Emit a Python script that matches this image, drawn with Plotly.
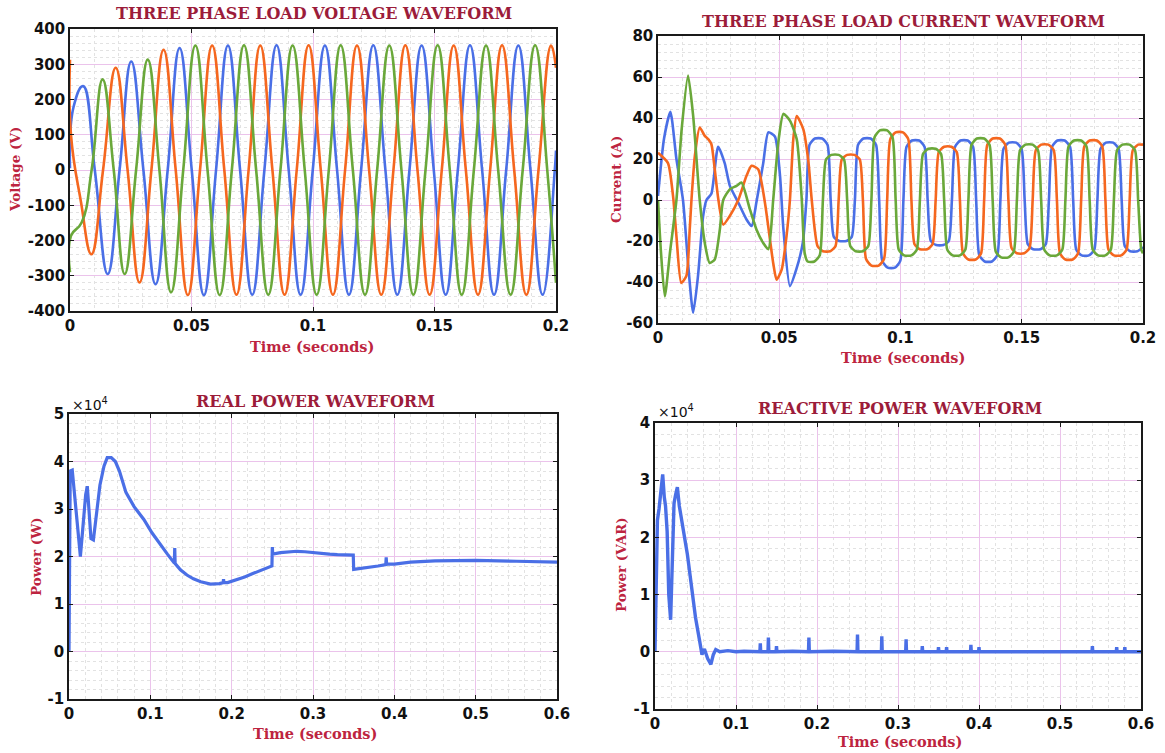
import plotly.graph_objects as go

# ---------------- DATA ----------------
# Three-phase load voltage (V) vs time (s)
v_t_blue = [0, 0.0015, 0.0054, 0.0102, 0.0155, 0.0204, 0.0252, 0.0302, 0.0352, 0.0402, 0.0451, 0.0501,
            0.0551, 0.0601, 0.0650, 0.0700, 0.0750, 0.0800, 0.0850, 0.0900, 0.0949, 0.0999, 0.1049, 0.1099,
            0.1148, 0.1198, 0.1248, 0.1298, 0.1347, 0.1397, 0.1447, 0.1497, 0.1546, 0.1596, 0.1646, 0.1696,
            0.1745, 0.1795, 0.1845, 0.1895, 0.1945, 0.1995, 0.2]
v_blue = [5, 180, 238, 0, -295, 0, 308, 0, -324, 0, 346, 0,
          -355, 0, 353, 0, -354, 0, 354, 0, -354, 0, 353, 0,
          -354, 0, 354, 0, -354, 0, 353, 0, -354, 0, 354, 0,
          -354, 0, 353, 0, -354, 0, 55]

v_t_orange = [0, 0.0004, 0.0045, 0.0088, 0.0136, 0.0188, 0.0237, 0.0286, 0.0335, 0.0385, 0.0435, 0.0485,
              0.0535, 0.0585, 0.0635, 0.0685, 0.0735, 0.0783, 0.0833, 0.0883, 0.0933, 0.0982, 0.1032, 0.1082,
              0.1132, 0.1181, 0.1231, 0.1281, 0.1331, 0.1380, 0.1430, 0.1480, 0.1530, 0.1579, 0.1629, 0.1679,
              0.1729, 0.1778, 0.1828, 0.1878, 0.1928, 0.1980, 0.2]
v_orange = [313, 100, -90, -239, 0, 290, 0, -319, 0, 341, 0, -355,
            0, 353, 0, -354, 0, 353, 0, -354, 0, 354, 0, -354,
            0, 353, 0, -354, 0, 354, 0, -354, 0, 353, 0, -354,
            0, 354, 0, -354, 0, 353, 290]

v_t_green = [0, 0.0004, 0.0048, 0.0089, 0.0134, 0.0180, 0.0225, 0.0272, 0.0320, 0.0368, 0.0416, 0.0466,
             0.0516, 0.0566, 0.0616, 0.0666, 0.0716, 0.0766, 0.0816, 0.0866, 0.0916, 0.0966, 0.1015, 0.1065,
             0.1114, 0.1164, 0.1214, 0.1264, 0.1314, 0.1364, 0.1413, 0.1463, 0.1513, 0.1563, 0.1612, 0.1662,
             0.1712, 0.1762, 0.1813, 0.1863, 0.1914, 0.1964, 0.2]
v_green = [-290, -187, -149, 0, 257, 0, -295, 0, 313, 0, -347, 0,
           353, 0, -355, 0, 354, 0, -354, 0, 353, 0, -354, 0,
           354, 0, -354, 0, 353, 0, -354, 0, 354, 0, -354, 0,
           353, 0, -354, 0, 354, 0, -320]

# Three-phase load current (A) vs time (s)
i_t_blue = [0, 0.0025, 0.0051, 0.0076, 0.0103, 0.0124, 0.0145, 0.0165, 0.0186, 0.02, 0.022, 0.0248, 0.0275,
            0.0296, 0.033, 0.0365, 0.0386, 0.0406, 0.0434, 0.0455, 0.0482, 0.0503, 0.0517, 0.0544, 0.057,
            0.0597, 0.0612,
            0.0625, 0.0647, 0.0677, 0.0699, 0.0712,
            0.0725, 0.0747, 0.0777, 0.0799, 0.0812,
            0.0825, 0.0847, 0.0877, 0.0899, 0.0912,
            0.0925, 0.0947, 0.0977, 0.0999, 0.1012,
            0.1025, 0.1047, 0.1077, 0.1099, 0.1112,
            0.1125, 0.1147, 0.1177, 0.1199, 0.1212,
            0.1225, 0.1247, 0.1277, 0.1299, 0.1312,
            0.1325, 0.1347, 0.1377, 0.1399, 0.1412,
            0.1425, 0.1447, 0.1477, 0.1499, 0.1512,
            0.1525, 0.1547, 0.1577, 0.1599, 0.1612,
            0.1625, 0.1647, 0.1677, 0.1699, 0.1712,
            0.1725, 0.1747, 0.1777, 0.1799, 0.1812,
            0.1825, 0.1847, 0.1877, 0.1899, 0.1912,
            0.1925, 0.1947, 0.1977, 0.2]
i_blue = [2, 30, 43, 20, 0, -31, -55, -37, -8, 0, 3, 26, 18,
          7, -1, -9.5, -12.7, -1, 18, 33, 31, 12, -14, -42, -34,
          -21, 0,
          27, 30, 30, 27, 0,
          -18, -20, -20, -18, 0,
          27, 30, 30, 27, 0,
          -29.7, -33, -33, -29.7, 0,
          26, 29, 29, 26, 0,
          -20, -22, -22, -20, 0,
          26, 29, 29, 26, 0,
          -27, -30, -30, -27, 0,
          25, 28, 28, 25, 0,
          -21.6, -24, -24, -21.6, 0,
          26, 29, 29, 26, 0,
          -24.3, -27, -27, -24.3, 0,
          25, 28, 28, 25, 0,
          -22.5, -25, -25, -23]

i_t_orange = [0, 0.0041, 0.0062, 0.0076, 0.0096, 0.0117, 0.0131, 0.0138, 0.0152, 0.0172, 0.0193, 0.0207,
              0.022, 0.0234, 0.0248, 0.0269, 0.0296, 0.0331, 0.0365, 0.0386, 0.0413, 0.0441, 0.0475, 0.0489,
              0.051, 0.053, 0.0544, 0.0558, 0.0572, 0.0599, 0.062, 0.0634,
              0.0658, 0.068, 0.071, 0.0732, 0.0745,
              0.0758, 0.078, 0.081, 0.0832, 0.0845,
              0.0858, 0.088, 0.091, 0.0932, 0.0945,
              0.0958, 0.098, 0.101, 0.1032, 0.1045,
              0.1058, 0.108, 0.111, 0.1132, 0.1145,
              0.1158, 0.118, 0.121, 0.1232, 0.1245,
              0.1258, 0.128, 0.131, 0.1332, 0.1345,
              0.1358, 0.138, 0.141, 0.1432, 0.1445,
              0.1458, 0.148, 0.151, 0.1532, 0.1545,
              0.1558, 0.158, 0.161, 0.1632, 0.1645,
              0.1658, 0.168, 0.171, 0.1732, 0.1745,
              0.1758, 0.178, 0.181, 0.1832, 0.1845,
              0.1858, 0.188, 0.191, 0.1932, 0.1945,
              0.1958, 0.198, 0.2]
i_orange = [23, 18, 2, -17.6, -40.5, -37, -14, 0, 21.5, 35.4, 31.3, 29.7,
            27.3, 15, 1, -12, -7.8, 0, 11.8, 16.7, 15, -1.3, -30.7, -38.9,
            -34, -17.6, 0, 29.7, 41, 34.6, 19, 0,
            -22.5, -25, -25, -22.5, 0,
            19.8, 22, 22, 19.8, 0,
            -28.8, -32, -32, -28.8, 0,
            29.7, 33, 33, 29.7, 0,
            -21.6, -24, -24, -21.6, 0,
            23.4, 26, 26, 23.4, 0,
            -26.1, -29, -29, -26.1, 0,
            27, 30, 30, 27, 0,
            -23.4, -26, -26, -23.4, 0,
            24.3, 27, 27, 24.3, 0,
            -26.1, -29, -29, -26.1, 0,
            26.1, 29, 29, 26.1, 0,
            -24.3, -27, -27, -24.3, 0,
            24.3, 27, 27]

i_t_green = [0, 0.0012, 0.0028, 0.005, 0.0076, 0.0098, 0.0124, 0.0145, 0.0172, 0.0193, 0.0213, 0.0234,
             0.0255, 0.0269, 0.0296, 0.0324, 0.0344, 0.0379, 0.0406, 0.0434, 0.0455, 0.0475, 0.0496, 0.0517,
             0.0544, 0.0572, 0.0592,
             0.0605, 0.0617, 0.0645, 0.0667, 0.068,
             0.0693, 0.0715, 0.0745, 0.0767, 0.078,
             0.0793, 0.0815, 0.0845, 0.0867, 0.088,
             0.0893, 0.0915, 0.0945, 0.0967, 0.098,
             0.0993, 0.1015, 0.1045, 0.1067, 0.108,
             0.1093, 0.1115, 0.1145, 0.1167, 0.118,
             0.1193, 0.1215, 0.1245, 0.1267, 0.128,
             0.1293, 0.1315, 0.1345, 0.1367, 0.138,
             0.1393, 0.1415, 0.1445, 0.1467, 0.148,
             0.1493, 0.1515, 0.1545, 0.1567, 0.158,
             0.1593, 0.1615, 0.1645, 0.1667, 0.168,
             0.1693, 0.1715, 0.1745, 0.1767, 0.178,
             0.1793, 0.1815, 0.1845, 0.1867, 0.188,
             0.1893, 0.1915, 0.1945, 0.1967, 0.198,
             0.1993, 0.2]
i_green = [0, -25, -47, -25, 0, 35, 60.7, 41, 0, -21, -30.7, -29,
           -14.4, 0, 5.2, 6.9, 8.5, -4.6, -14.4, -21, -24, 0, 28, 42,
           38.7, 29.7, 2,
           -26, -30, -30, -27, 0,
           19.8, 22, 22, 19.8, 0,
           -22.5, -25, -25, -22.5, 0,
           30.6, 34, 34, 30.6, 0,
           -24.3, -27, -27, -24.3, 0,
           22.5, 25, 25, 22.5, 0,
           -24.3, -27, -27, -24.3, 0,
           27, 30, 30, 27, 0,
           -25.2, -28, -28, -25.2, 0,
           24.3, 27, 27, 24.3, 0,
           -24.3, -27, -27, -24.3, 0,
           26.1, 29, 29, 26.1, 0,
           -24.3, -27, -27, -24.3, 0,
           24.3, 27, 27, 24.3, 0,
           -24.3, -26]

# Real power (x10^4 W) vs time (s)
p_t = [0, 0.0008, 0.0015, 0.004, 0.008, 0.0115, 0.014, 0.017, 0.0205, 0.0225,
       0.0245, 0.027, 0.030, 0.034, 0.038, 0.043, 0.047, 0.052, 0.057, 0.062,
       0.07, 0.08, 0.092, 0.102, 0.112, 0.121, 0.1295, 0.13, 0.1305, 0.137,
       0.145, 0.153, 0.162, 0.174, 0.185, 0.1895, 0.19, 0.1905, 0.195, 0.205,
       0.216, 0.226, 0.236, 0.245, 0.2495, 0.25, 0.2505, 0.26, 0.27, 0.28,
       0.29, 0.3, 0.31, 0.32, 0.33, 0.34, 0.3495, 0.35, 0.36, 0.37,
       0.38, 0.3895, 0.39, 0.3905, 0.40, 0.42, 0.45, 0.5, 0.55, 0.6]
p_real = [0, 3.3, 3.8, 3.82, 3.1, 2.4, 2.0, 2.6, 3.3, 3.48,
          3.0, 2.38, 2.35, 2.9, 3.5, 3.9, 4.08, 4.08, 4.0, 3.8,
          3.35, 3.05, 2.78, 2.5, 2.25, 2.05, 1.86, 2.18, 1.85, 1.72,
          1.61, 1.53, 1.47, 1.42, 1.43, 1.45, 1.52, 1.45, 1.45, 1.5,
          1.57, 1.64, 1.71, 1.77, 1.8, 2.2, 2.05, 2.08, 2.1, 2.11,
          2.1, 2.08, 2.07, 2.05, 2.04, 2.03, 2.03, 1.73, 1.75, 1.78,
          1.8, 1.83, 1.98, 1.84, 1.84, 1.88, 1.91, 1.92, 1.9, 1.88]

# Reactive power (x10^4 VAR) vs time (s)
q_t = [0, 0.0015, 0.003, 0.005, 0.0075, 0.0095, 0.0115, 0.013, 0.015, 0.017,
       0.0193, 0.0215, 0.0235, 0.0255, 0.0276, 0.03, 0.035, 0.04, 0.045, 0.05,
       0.055, 0.058, 0.061, 0.065, 0.069, 0.072, 0.075, 0.08, 0.09, 0.1,
       0.11, 0.12,
       0.1295, 0.13, 0.1305, 0.1395, 0.14, 0.1405, 0.1495, 0.15, 0.1505, 0.17,
       0.1895, 0.19, 0.1905, 0.22, 0.2495, 0.25, 0.2505, 0.2795, 0.28, 0.2805,
       0.3095, 0.31, 0.3105, 0.3295, 0.33, 0.3305, 0.3495, 0.35, 0.3505,
       0.3595, 0.36, 0.3605, 0.3895, 0.39, 0.3905, 0.3995, 0.4, 0.4005,
       0.45, 0.5, 0.5395, 0.54, 0.5405, 0.5695, 0.57, 0.5705, 0.5795, 0.58, 0.5805, 0.6]
q_react = [0, 1.0, 2.3, 2.5, 2.8, 3.1, 2.7, 2.55, 2.1, 1.0,
           0.56, 1.6, 2.6, 2.75, 2.88, 2.55, 2.15, 1.7, 1.15, 0.6,
           0.2, -0.05, 0.05, -0.12, -0.22, -0.05, 0.04, 0.0, 0.02, 0.0,
           0.01, 0.0,
           0.0, 0.15, 0.0, 0.0, 0.25, 0.0, 0.0, 0.1, 0.0, 0.01,
           0.0, 0.25, 0.0, 0.01, 0.0, 0.3, 0.0, 0.0, 0.27, 0.0,
           0.0, 0.22, 0.0, 0.0, 0.1, 0.0, 0.0, 0.08, 0.0,
           0.0, 0.08, 0.0, 0.0, 0.12, 0.0, 0.0, 0.08, 0.0,
           0.0, 0.0, 0.0, 0.1, 0.0, 0.0, 0.08, 0.0, 0.0, 0.08, 0.0, 0.0]

# Tick labels
x_ticks_short = [0, 0.05, 0.1, 0.15, 0.2]
x_labels_short = ["0", "0.05", "0.1", "0.15", "0.2"]
x_ticks_long = [0, 0.1, 0.2, 0.3, 0.4, 0.5, 0.6]
x_labels_long = ["0", "0.1", "0.2", "0.3", "0.4", "0.5", "0.6"]
v_ticks = [-400, -300, -200, -100, 0, 100, 200, 300, 400]
i_ticks = [-60, -40, -20, 0, 20, 40, 60, 80]
p_ticks = [-1, 0, 1, 2, 3, 4, 5]
q_ticks = [-1, 0, 1, 2, 3, 4]

for a, b in [(v_t_blue, v_blue), (v_t_orange, v_orange), (v_t_green, v_green),
             (i_t_blue, i_blue), (i_t_orange, i_orange), (i_t_green, i_green),
             (p_t, p_real), (q_t, q_react)]:
    assert len(a) == len(b), (len(a), len(b))

# ---------------- STYLE ----------------
W, H = 1165, 753
BLUE, ORANGE, GREEN = "#4a6fe6", "#f5671f", "#6aa83a"
TITLE_C = "#9c1c3a"
LABEL_C = "#bd2440"
SERIF = "DejaVu Serif"
SANS = "DejaVu Sans"


def px_x(a, b):
    return [a / W, b / W]


def px_y(top, bottom):
    return [1 - bottom / H, 1 - top / H]


def axis(domain, anchor, rng, vals, texts, minor_dt):
    return dict(domain=domain, anchor=anchor, range=rng, tickmode="array", tickvals=vals,
                ticktext=[str(t) for t in texts], showline=True, mirror="ticks", linecolor="#1a1a1a",
                linewidth=1.5, ticks="inside", ticklen=4, tickcolor="#1a1a1a", tickwidth=1,
                showgrid=True, gridcolor="#ebc3eb", gridwidth=1, zeroline=False, automargin=False,
                tickfont=dict(family=SANS, size=15, color="#111", weight="bold"),
                minor=dict(tickmode="linear", dtick=minor_dt, showgrid=True, gridcolor="#e2e2e2",
                           griddash="dot", gridwidth=1, ticks=""),
                fixedrange=True)


fig = go.Figure()

def add(x, y, color, xa, ya, width=2.6, shape="spline", smoothing=1.0):
    line = dict(color=color, width=width, shape=shape)
    if shape == "spline":
        line["smoothing"] = smoothing
    fig.add_trace(go.Scatter(x=x, y=y, mode="lines", line=line, xaxis=xa, yaxis=ya,
                             showlegend=False, hoverinfo="skip"))

add(v_t_blue, v_blue, BLUE, "x", "y", smoothing=1.3)
add(v_t_orange, v_orange, ORANGE, "x", "y", smoothing=1.3)
add(v_t_green, v_green, GREEN, "x", "y", smoothing=1.3)

add(i_t_blue, i_blue, BLUE, "x2", "y2", smoothing=0.6)
add(i_t_orange, i_orange, ORANGE, "x2", "y2", smoothing=0.6)
add(i_t_green, i_green, GREEN, "x2", "y2", smoothing=0.6)

add(p_t, p_real, BLUE, "x3", "y3", width=3.2, shape="linear")
add(q_t, q_react, BLUE, "x4", "y4", width=3.4, shape="linear")

layout = dict(
    width=W, height=H, autosize=False,
    margin=dict(l=0, r=0, t=0, b=0),
    paper_bgcolor="white", plot_bgcolor="white",
    xaxis=axis(px_x(70, 556), "y", [0, 0.2], x_ticks_short, x_labels_short, 0.01),
    yaxis=axis(px_y(29, 311), "x", [-400, 400], v_ticks, v_ticks, 20),
    xaxis2=axis(px_x(658, 1143), "y2", [0, 0.2], x_ticks_short, x_labels_short, 0.01),
    yaxis2=axis(px_y(36, 323), "x2", [-60, 80], i_ticks, i_ticks, 4),
    xaxis3=axis(px_x(69, 557), "y3", [0, 0.6], x_ticks_long, x_labels_long, 0.02),
    yaxis3=axis(px_y(414, 699), "x3", [-1, 5], p_ticks, p_ticks, 0.2),
    xaxis4=axis(px_x(655, 1141), "y4", [0, 0.6], x_ticks_long, x_labels_long, 0.02),
    yaxis4=axis(px_y(423, 709), "x4", [-1, 4], q_ticks, q_ticks, 0.2),
)
fig.update_layout(**layout)


def ann(text, x, y, size, color, family=SERIF, angle=0, weight="bold"):
    fig.add_annotation(text=text, x=x / W, y=1 - y / H, xref="paper", yref="paper",
                       showarrow=False, xanchor="center", yanchor="middle", textangle=angle,
                       font=dict(family=family, size=size, color=color, weight=weight))

# Titles
ann("THREE PHASE LOAD VOLTAGE WAVEFORM", 314, 14, 16, TITLE_C)
ann("THREE PHASE LOAD CURRENT WAVEFORM", 903, 22, 16, TITLE_C)
ann("REAL POWER WAVEFORM", 315, 401, 16, TITLE_C)
ann("REACTIVE POWER WAVEFORM", 900, 408, 16, TITLE_C)
# Axis titles
ann("Time (seconds)", 312, 346, 14.5, LABEL_C)
ann("Time (seconds)", 903, 357, 14.5, LABEL_C)
ann("Time (seconds)", 315, 733, 14.5, LABEL_C)
ann("Time (seconds)", 900, 741, 14.5, LABEL_C)
ann("Voltage (V)", 15, 170, 13.5, LABEL_C, angle=-90)
ann("Current (A)", 616, 180, 13.5, LABEL_C, angle=-90)
ann("Power (W)", 36, 557, 13.5, LABEL_C, angle=-90)
ann("Power (VAR)", 621, 565, 13.5, LABEL_C, angle=-90)
# Exponent labels
ann("×10<sup>4</sup>", 90, 404, 14, "#111", family=SANS, weight="normal")
ann("×10<sup>4</sup>", 676, 411, 14, "#111", family=SANS, weight="normal")

fig.write_html("out.html", config={"displayModeBar": False},
               post_script="document.body.style.margin='0px';document.body.style.overflow='hidden';")
